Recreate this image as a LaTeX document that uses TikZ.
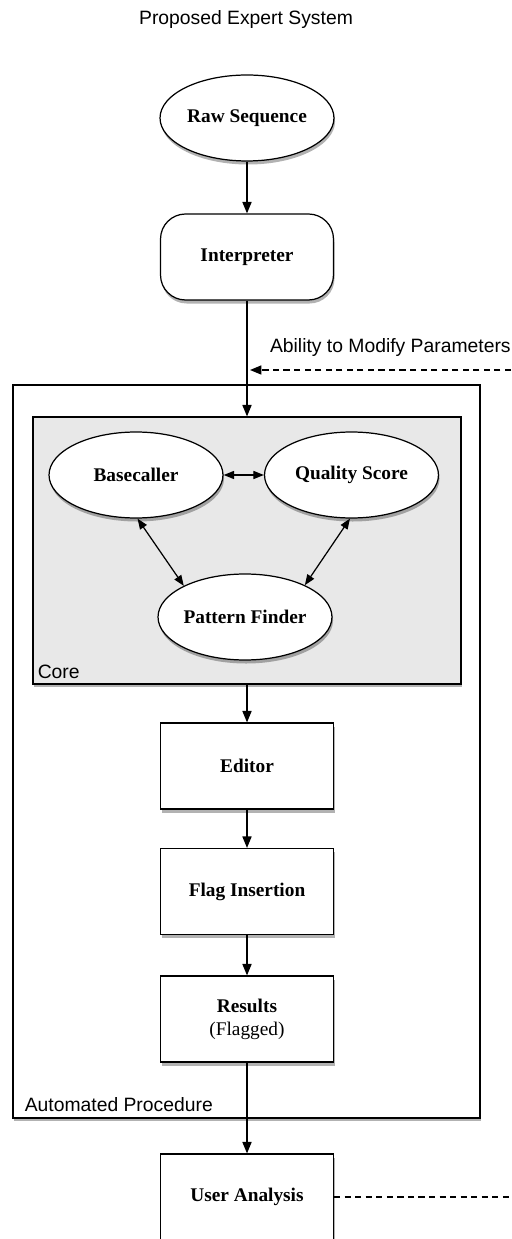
\documentclass[tikz,border=0pt]{standalone}
\usepackage{fontspec}
\setmainfont{Liberation Serif}
\setsansfont{Liberation Sans}
\usepackage{tikz}
\usetikzlibrary{calc,arrows.meta,shapes.geometric,shadows}
\newcommand{\flowsize}{\fontsize{11}{13.2}\selectfont}
\tikzset{%
  soft/.style={drop shadow={shadow xshift=0.6pt,shadow yshift=-2pt,opacity=0.3,fill=black}},
  oval/.style={draw,shape=ellipse,fill=white,line width=0.7pt,minimum width=3.48cm,minimum height=1.72cm,inner sep=0,font=\flowsize\bfseries,soft},
  stepbox/.style={draw,shape=rectangle,fill=white,line width=0.7pt,minimum width=3.46cm,minimum height=1.72cm,inner sep=0,font=\flowsize\bfseries,soft},
  termbox/.style={stepbox,rounded corners=0.5cm},
  frame/.style={draw,shape=rectangle,line width=0.7pt,inner sep=0,soft},
  tag/.style={font=\flowsize\sffamily,inner sep=0},
  flow/.style={line width=0.7pt,-{Triangle[length=6.5pt,width=5.2pt]}},
  twoway/.style={line width=0.7pt,{Triangle[length=6pt,width=4.6pt]}-{Triangle[length=6pt,width=4.6pt]}},
  dline/.style={line width=0.7pt,dash pattern=on 3.5pt off 2.5pt}
}
\begin{document}
\begin{tikzpicture}[x=0.02cm,y=-0.02cm]
    \useasboundingbox (0,0) rectangle (511,1239);
    \node (title)[tag] at (246,20) {Proposed Expert System};
    \node (auto)[frame,fill=white,minimum width=9.34cm,minimum height=14.66cm] at (246.5,751.5) {};
    \node (core)[frame,fill=black!9,minimum width=8.56cm,minimum height=5.34cm] at (247,550.5) {};
    \node (autolbl)[tag,anchor=south west] at ($(auto.south west)+(12,-7)$) {Automated Procedure};
    \node (corelbl)[tag,anchor=south west] at ($(core.south west)+(5,-6)$) {Core};
    \node (raw)[oval] at (247,118) {Raw Sequence};
    \node (interp)[termbox] at (247,257) {Interpreter};
    \node (base)[oval] at (136,475) {Basecaller};
    \node (qual)[oval] at (351.5,475) {Quality Score};
    \node (pat)[oval] at (245,617) {Pattern Finder};
    \node (editor)[stepbox] at (247,766) {Editor};
    \node (flag)[stepbox] at (247,891.5) {Flag Insertion};
    \node (results)[stepbox,align=center] at (247,1019) {Results\\\mdseries(Flagged)};
    \node (user)[stepbox] at (247,1197) {User Analysis};
    \node (modlbl)[tag,anchor=east] at (511,348) {Ability to Modify Parameters};
    \coordinate (modin) at (511,370);
    \coordinate (userout) at (511,1197);
    \draw[flow] (raw) -- (interp);
    \draw[flow] (interp) -- (core);
    \draw[flow,dline] (modin) -- ($(modin -| interp.south)+(3,0)$);
    \draw[twoway] (base) -- (qual);
    \draw[twoway] (base.-88) -- (pat.153);
    \draw[twoway] (qual.-92) -- (pat.28);
    \draw[flow] (core) -- (editor);
    \draw[flow] (editor) -- (flag);
    \draw[flow] (flag) -- (results);
    \draw[flow] (results) -- (user);
    \draw[dline] (user) -- (userout);
  \end{tikzpicture}
\end{document}
